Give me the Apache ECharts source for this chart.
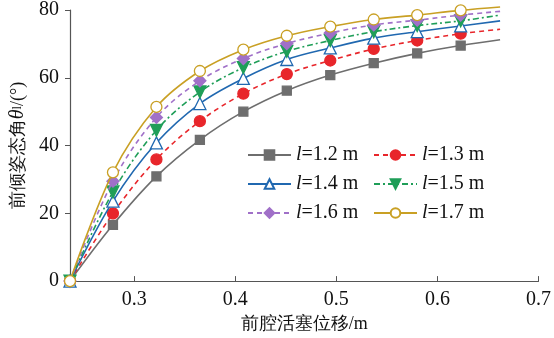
<!DOCTYPE html>
<html>
<head>
<meta charset="utf-8">
<script src="https://cdn.jsdelivr.net/npm/echarts@6/dist/echarts.min.js"></script>
<style>
html,body{margin:0;padding:0;background:#fff;}
#chart{width:554px;height:338px;}
</style>
</head>
<body>
<div id="chart"></div>
<script>
// Front piston displacement (m) at each sample, plus the curve's end point
const displacement = [0.2365, 0.279, 0.322, 0.365, 0.408, 0.451, 0.494, 0.537, 0.580, 0.623, 0.662];

// Forward tilt angle (deg) for each link length l
const l12 = [0, 16.6, 30.9, 41.7, 50.0, 56.2, 60.8, 64.3, 67.2, 69.5, 71.2];
const l13 = [0, 20.0, 35.9, 47.2, 55.3, 61.1, 65.1, 68.5, 71.0, 73.0, 74.3];
const l14 = [0, 23.6, 40.8, 52.4, 59.8, 65.4, 68.8, 71.7, 73.6, 75.3, 76.8];
const l15 = [0, 26.3, 44.5, 55.8, 63.0, 67.8, 71.0, 73.6, 75.4, 76.8, 78.5];
const l16 = [0, 29.5, 48.3, 59.1, 65.7, 70.1, 73.2, 75.6, 77.0, 78.5, 79.6];
const l17 = [0, 32.1, 51.4, 62.0, 68.3, 72.4, 75.1, 77.2, 78.5, 79.9, 80.9];

const seriesNames = ['l=1.2 m', 'l=1.3 m', 'l=1.4 m', 'l=1.5 m', 'l=1.6 m', 'l=1.7 m'];
const xTicks = [0.3, 0.4, 0.5, 0.6, 0.7];

const FONT = '"Liberation Serif", "Times New Roman", serif';

const styles = [
  {color: '#6e6e6e', type: 'solid', symbol: 'rect', size: 9, fill: '#6e6e6e'},
  {color: '#e8262b', type: [5, 4], symbol: 'circle', size: 11, fill: '#e8262b'},
  {color: '#2068b0', type: 'solid', symbol: 'triangle', size: 12, fill: '#ffffff'},
  {color: '#1f9e58', type: [6, 3, 2, 3], symbol: 'path://M0,0 L10,0 L5,9 Z', size: 12, fill: '#1f9e58'},
  {color: '#a070c8', type: [5, 4], symbol: 'diamond', size: 12, fill: '#a070c8'},
  {color: '#c9a024', type: 'solid', symbol: 'circle', size: 11, fill: '#ffffff'}
];
const values = [l12, l13, l14, l15, l16, l17];

function buildData(ys) {
  return ys.map((y, i) => {
    const item = {value: [displacement[i], y]};
    if (i === ys.length - 1) item.symbol = 'none';
    return item;
  });
}

const series = values.map((ys, k) => {
  const s = styles[k];
  return {
    name: seriesNames[k],
    type: 'line',
    data: buildData(ys),
    smooth: 0.35,
    clip: false,
    symbol: s.symbol,
    symbolSize: s.size,
    showAllSymbol: true,
    z: 2 + k,
    lineStyle: {color: s.color, width: 1.6, type: s.type},
    itemStyle: {color: s.fill, borderColor: s.color, borderWidth: 1.3},
    emphasis: {disabled: true}
  };
});

function legendFmt(name) {
  return '{i|l}=' + name.slice(2);
}

const legendBase = {
  orient: 'vertical',
  itemWidth: 43,
  itemHeight: 12,
  itemGap: 9,
  textStyle: {
    fontFamily: FONT, fontSize: 20, color: '#111',
    rich: {i: {fontFamily: FONT, fontStyle: 'italic', fontSize: 20, color: '#111'}}
  },
  formatter: legendFmt,
  selectedMode: false
};

const chart = echarts.init(document.getElementById('chart'), null, {renderer: 'canvas'});
chart.setOption({
  animation: false,
  backgroundColor: '#ffffff',
  grid: {left: 65, right: 15, top: 10, bottom: 52},
  legend: [
    Object.assign({}, legendBase, {left: 242, top: 140, data: seriesNames.filter((_, i) => i % 2 === 0)}),
    Object.assign({}, legendBase, {left: 368, top: 140, data: seriesNames.filter((_, i) => i % 2 === 1)})
  ],
  xAxis: {
    type: 'value',
    min: 0.2365,
    max: 0.7,
    interval: 0.1,
    name: '前腔活塞位移/m',
    nameLocation: 'middle',
    nameGap: 31,
    nameTextStyle: {fontFamily: FONT, fontSize: 18, color: '#111'},
    axisLine: {lineStyle: {color: '#555', width: 1.2}},
    axisTick: {inside: true, length: 5, lineStyle: {color: '#555'},
      customValues: xTicks},
    axisLabel: {fontFamily: FONT, fontSize: 20, color: '#111', margin: 9,
      customValues: xTicks,
      formatter: v => v.toFixed(1)},
    splitLine: {show: false}
  },
  yAxis: {
    type: 'value',
    min: 0,
    max: 80,
    interval: 20,
    name: '前倾姿态角{t|θ}{s|l}/(°)',
    nameLocation: 'middle',
    nameGap: 42,
    nameTextStyle: {
      fontFamily: FONT, fontSize: 18, color: '#111',
      rich: {
        t: {fontFamily: FONT, fontStyle: 'italic', fontSize: 20, color: '#111'},
        s: {fontFamily: FONT, fontSize: 12, color: '#111'}
      }
    },
    axisLine: {show: true, lineStyle: {color: '#555', width: 1.2}},
    axisTick: {show: true, inside: false, length: 5, lineStyle: {color: '#555'}},
    axisLabel: {fontFamily: FONT, fontSize: 20, color: '#111', margin: 11},
    splitLine: {show: false}
  },
  series: series
});
</script>
</body>
</html>
